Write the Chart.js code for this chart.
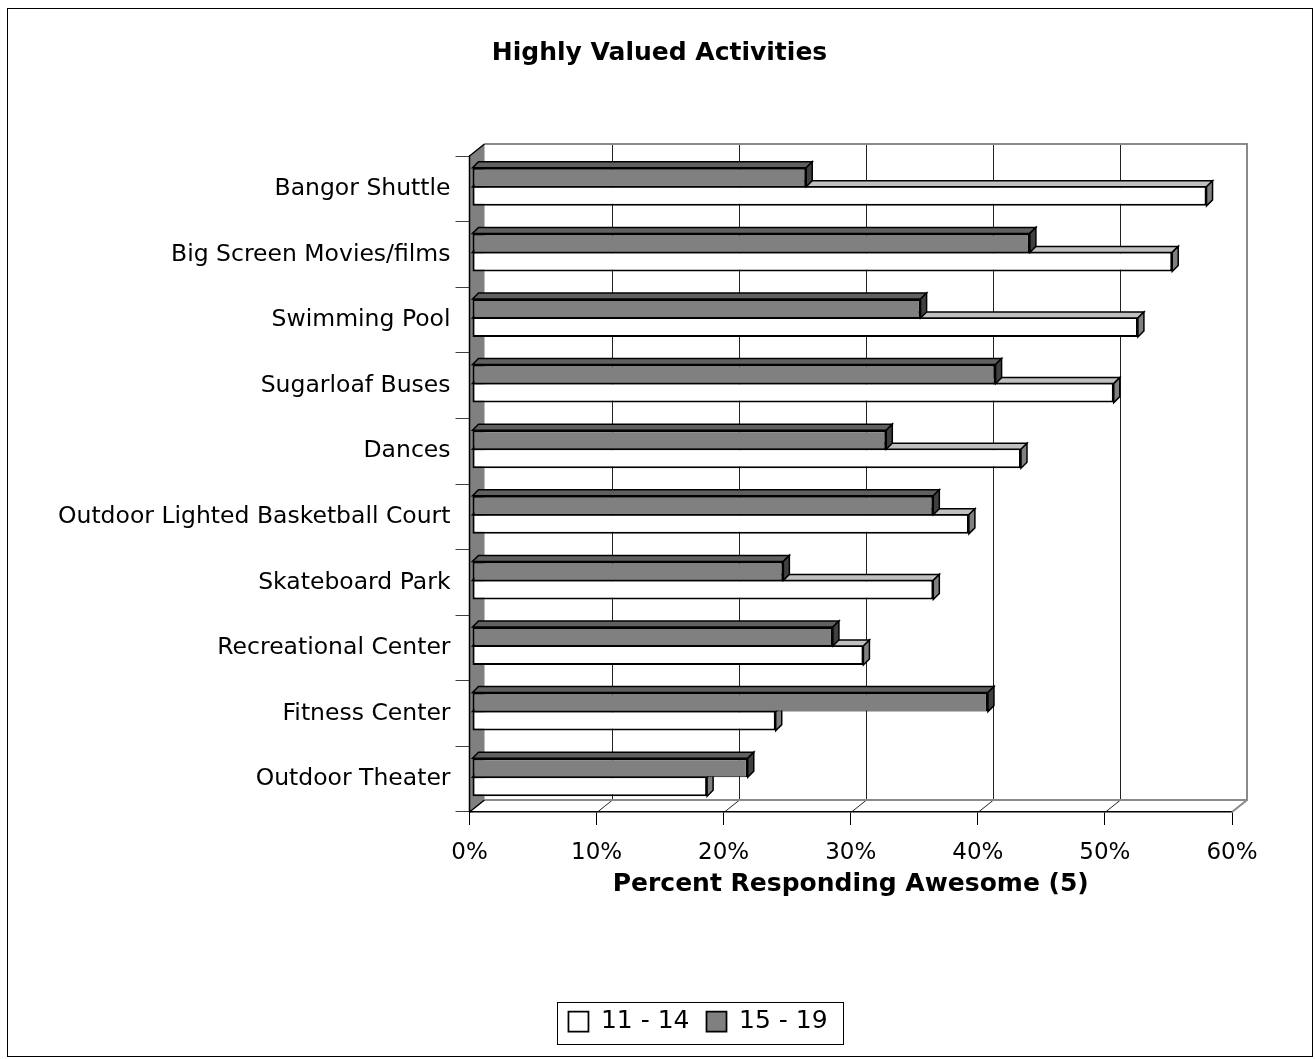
<!DOCTYPE html>
<html><head><meta charset="utf-8">
<script src="https://cdn.jsdelivr.net/npm/chart.js@4.4.1/dist/chart.umd.min.js"></script>
<style>html,body{margin:0;padding:0;background:#fff;}canvas{display:block;}</style>
</head><body>
<canvas id="c" width="1315" height="1059"></canvas>
<script>
const categories = ["Bangor Shuttle","Big Screen Movies/films","Swimming Pool","Sugarloaf Buses","Dances","Outdoor Lighted Basketball Court","Skateboard Park","Recreational Center","Fitness Center","Outdoor Theater"];
const ages11to14 = [57.8,55.1,52.4,50.5,43.2,39.1,36.3,30.8,23.9,18.5];
const ages15to19 = [26.3,43.9,35.3,41.2,32.6,36.3,24.5,28.4,40.6,21.7];
const xTicks = [0,10,20,30,40,50,60];
const seriesNames = ["11 - 14","15 - 19"];

const FONT = "'DejaVu Sans', 'Liberation Sans', sans-serif";
Chart.defaults.font.family = FONT;
Chart.defaults.color = '#000';

const PAD_L = 0, PAD_R = 83;
const FRONT_LEFT = 469.5;
const wallDX = 15, wallDY = 12;
const barDX = 6, barDY = 6;
const shiftX = 2.5, shiftY = -2;
const titleCenterX = 659.5, legendCenterX = 698;

const faceColors = [
  {top:'#606060', side:'#404040'},   // 15 - 19 (dataset 0)
  {top:'#c0c0c0', side:'#808080'}    // 11 - 14 (dataset 1)
];

const threeD = {
  id: 'threeD',
  afterLayout(chart) {
    const lg = chart.legend;
    if (lg) { const d = legendCenterX - (lg.left + lg.right) / 2; lg.left += d; lg.right += d; }
    const tb = chart.titleBlock;
    if (tb) { const d = titleCenterX - (tb.left + tb.right) / 2; tb.left += d; tb.right += d; }
  },
  beforeDatasetsDraw(chart) {
    const {ctx, chartArea: a, scales: {x}} = chart;
    ctx.save();
    ctx.lineWidth = 1; ctx.strokeStyle = '#222';
    for (let i = 1; i < xTicks.length - 1; i++) {
      const px = Math.round(x.getPixelForValue(xTicks[i])) + 0.5;
      ctx.beginPath();
      ctx.moveTo(px + wallDX, a.top - wallDY); ctx.lineTo(px + wallDX, a.bottom - wallDY);
      ctx.stroke();
      ctx.beginPath();
      ctx.moveTo(px, a.bottom); ctx.lineTo(px + wallDX, a.bottom - wallDY);
      ctx.stroke();
    }
    ctx.strokeStyle = '#8a8a8a'; ctx.lineWidth = 2;
    ctx.beginPath();
    ctx.moveTo(a.left + wallDX, a.top - wallDY);
    ctx.lineTo(a.right + wallDX, a.top - wallDY);
    ctx.lineTo(a.right + wallDX, a.bottom - wallDY);
    ctx.lineTo(a.right, a.bottom);
    ctx.moveTo(a.left + wallDX, a.bottom - wallDY);
    ctx.lineTo(a.right + wallDX, a.bottom - wallDY);
    ctx.stroke();
    ctx.fillStyle = '#808080';
    ctx.beginPath();
    ctx.moveTo(a.left, a.top); ctx.lineTo(a.left + wallDX, a.top - wallDY);
    ctx.lineTo(a.left + wallDX, a.bottom - wallDY); ctx.lineTo(a.left, a.bottom);
    ctx.closePath(); ctx.fill();
    ctx.strokeStyle = '#000'; ctx.lineWidth = 1.5;
    ctx.beginPath();
    ctx.moveTo(a.left, a.bottom); ctx.lineTo(a.left, a.top); ctx.lineTo(a.left + wallDX, a.top - wallDY);
    ctx.moveTo(a.left, a.bottom); ctx.lineTo(a.left + wallDX, a.bottom - wallDY);
    ctx.stroke();
    ctx.restore();
    ctx.save();
    ctx.translate(shiftX, shiftY);
  },
  afterDatasetDraw(chart, args) {
    const ctx = chart.ctx;
    const col = faceColors[args.index];
    ctx.save();
    ctx.lineWidth = 1.5; ctx.strokeStyle = '#000'; ctx.lineJoin = 'miter';
    args.meta.data.forEach(el => {
      const p = el.getProps(['x','y','base','height'], true);
      const left = Math.min(p.x, p.base), right = Math.max(p.x, p.base);
      const top = p.y - p.height/2, bottom = p.y + p.height/2;
      ctx.fillStyle = col.top;
      ctx.beginPath();
      ctx.moveTo(left, top); ctx.lineTo(left + barDX, top - barDY);
      ctx.lineTo(right + barDX, top - barDY); ctx.lineTo(right, top); ctx.closePath();
      ctx.fill(); ctx.stroke();
      ctx.fillStyle = col.side;
      ctx.beginPath();
      ctx.moveTo(right, top); ctx.lineTo(right + barDX, top - barDY);
      ctx.lineTo(right + barDX, bottom - barDY); ctx.lineTo(right, bottom); ctx.closePath();
      ctx.fill(); ctx.stroke();
    });
    ctx.restore();
  },
  afterDatasetsDraw(chart) { chart.ctx.restore(); },
  afterDraw(chart) {
    const ctx = chart.ctx, lg = chart.legend;
    ctx.save();
    ctx.strokeStyle = '#000'; ctx.lineWidth = 1;
    if (lg && lg.lineWidths) {
      const pad = lg.options.labels.padding;
      const start = (lg.left + pad + lg.right - lg.lineWidths[0]) / 2;
      const end = start + lg.lineWidths[0] - pad;
      const cy = lg.top + pad + lg.options.labels.font.size / 2;
      ctx.strokeRect(Math.round(start - 11) + 0.5, Math.round(cy - 20) + 0.5, Math.round(end - start + 27), 42);
    }
    ctx.strokeRect(7.5, 8.5, 1305, 1048);
    ctx.restore();
  }
};

new Chart(document.getElementById('c'), {
  type: 'bar',
  data: {
    labels: categories,
    datasets: [
      { label: seriesNames[1], data: ages15to19, backgroundColor: '#808080', borderColor: '#000',
        borderWidth: {top:2, right:2, bottom:1, left:2}, borderSkipped: false, clip: false },
      { label: seriesNames[0], data: ages11to14, backgroundColor: '#ffffff', borderColor: '#000',
        borderWidth: {top:1, right:2, bottom:2, left:2}, borderSkipped: false, clip: false }
    ]
  },
  options: {
    indexAxis: 'y',
    responsive: false,
    animation: false,
    devicePixelRatio: 1,
    categoryPercentage: 0.58,
    barPercentage: 1.0,
    layout: { padding: { left: PAD_L, right: PAD_R, top: 8, bottom: 15 } },
    plugins: {
      title: { display: true, text: 'Highly Valued Activities', color: '#000',
        font: { size: 25, weight: 'bold' }, padding: { top: 30, bottom: 88 } },
      legend: { display: true, position: 'bottom', reverse: true,
        labels: { boxWidth: 20, boxHeight: 20, padding: 17, color: '#000', font: { size: 25 } } },
      tooltip: { enabled: false }
    },
    scales: {
      x: {
        type: 'linear', min: 0, max: 60,
        afterBuildTicks: s => { s.ticks = xTicks.map(v => ({ value: v })); },
        afterFit: s => { s.height = 180; },
        ticks: { callback: v => v + '%', font: { size: 23 }, color: '#000', padding: 14, maxRotation: 0 },
        grid: { drawOnChartArea: false, drawTicks: true, tickLength: 13, color: '#000', lineWidth: 1 },
        border: { display: true, color: '#000', width: 1.5 },
        title: { display: true, text: 'Percent Responding Awesome (5)', color: '#000',
          font: { size: 25, weight: 'bold' }, padding: { top: 11, bottom: 93 } }
      },
      y: {
        type: 'category',
        afterFit: s => { s.width = FRONT_LEFT - PAD_L; },
        ticks: { font: { size: 23.5 }, color: '#000', padding: 5 },
        grid: { drawOnChartArea: false, drawTicks: true, tickLength: 14, color: '#404040', offset: true },
        border: { display: true, color: '#000', width: 1.5 }
      }
    }
  },
  plugins: [threeD]
});
</script>
</body></html>
